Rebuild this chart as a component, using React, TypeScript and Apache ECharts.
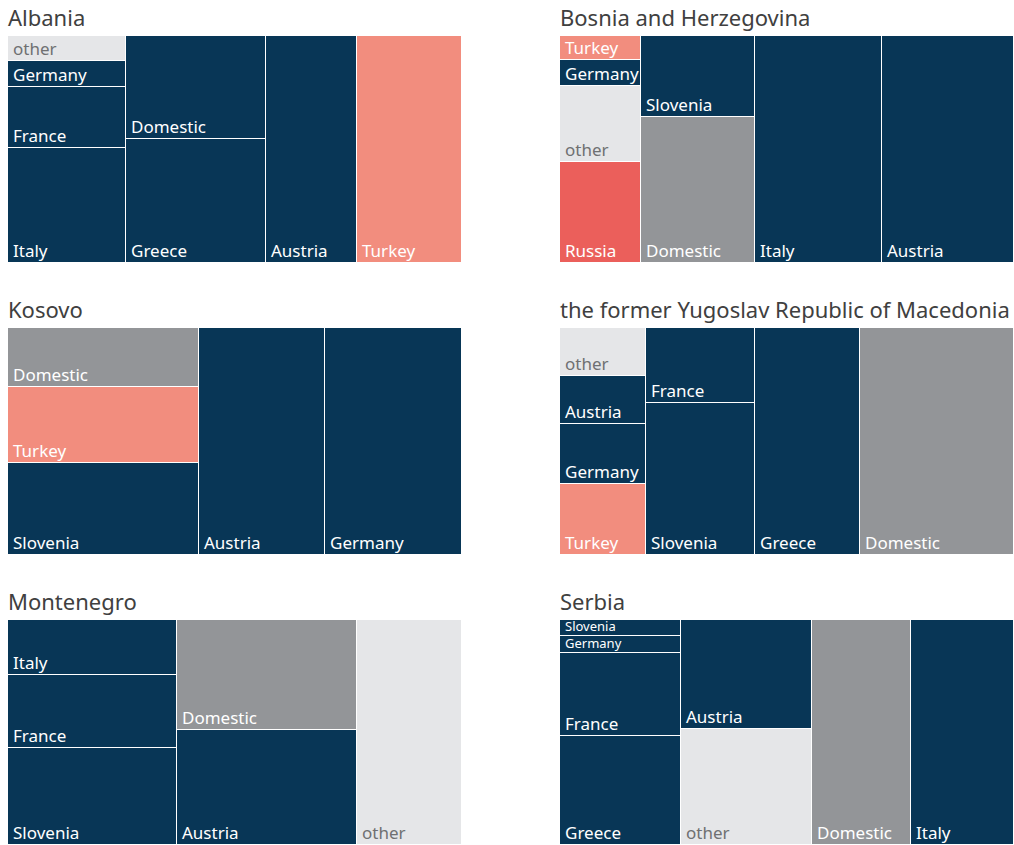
import React, { useEffect, useRef } from "react";
import * as echarts from "echarts";

// ---- Data (shares of a total, in %), sorted ascending as drawn ----
const albaniaNames = ["other", "Germany", "France", "Italy", "Domestic", "Greece", "Austria", "Turkey"];
const albaniaValues = [2.9, 2.95, 7.0, 13.1, 14.0, 17.0, 19.9, 23.2];
const albaniaColumns = [4, 2, 1, 1];

const bosniaNames = ["Turkey", "Germany", "other", "Russia", "Slovenia", "Domestic", "Italy", "Austria"];
const bosniaValues = [1.92, 2.01, 6.01, 8.0, 8.97, 16.06, 28.04, 28.98];
const bosniaColumns = [4, 2, 1, 1];

const kosovoNames = ["Domestic", "Turkey", "Slovenia", "Austria", "Germany"];
const kosovoValues = [10.91, 14.13, 16.97, 27.86, 30.13];
const kosovoColumns = [3, 1, 1];

const macedoniaNames = ["other", "Austria", "Germany", "Turkey", "France", "Slovenia", "Greece", "Domestic"];
const macedoniaValues = [3.98, 4.0, 5.0, 5.96, 7.95, 16.1, 23.1, 33.9];
const macedoniaColumns = [4, 2, 1, 1];

const montenegroNames = ["Italy", "France", "Slovenia", "Domestic", "Austria", "other"];
const montenegroValues = [9.04, 12.1, 16.13, 19.35, 20.16, 23.22];
const montenegroColumns = [3, 2, 1];

const serbiaNames = ["Slovenia", "Germany", "France", "Greece", "Austria", "other", "Domestic", "Italy"];
const serbiaValues = [1.93, 1.97, 9.87, 12.94, 13.84, 14.86, 21.81, 22.78];
const serbiaColumns = [4, 2, 1, 1];

const panelTitles = [
  "Albania",
  "Bosnia and Herzegovina",
  "Kosovo",
  "the former Yugoslav Republic of Macedonia",
  "Montenegro",
  "Serbia",
];

// ---- Styles ----
const NAVY = "#083656";
const GREY = "#939598";
const LIGHT = "#e5e6e8";
const SALMON = "#f28d7e";
const RED = "#eb5f5b";

const fillFor = (name: string, greyDomestic: boolean) => {
  if (name === "Domestic") return greyDomestic ? GREY : NAVY;
  if (name === "other") return LIGHT;
  if (name === "Turkey") return SALMON;
  if (name === "Russia") return RED;
  return NAVY;
};
const textFor = (name: string) => (name === "other" ? "#6f7072" : "#ffffff");

const FONT = "'Noto Sans', 'Open Sans', sans-serif";

type Panel = { title: string; names: string[]; values: number[]; columns: number[]; greyDomestic: boolean };

const panels: Panel[] = [
  { title: panelTitles[0], names: albaniaNames, values: albaniaValues, columns: albaniaColumns, greyDomestic: false },
  { title: panelTitles[1], names: bosniaNames, values: bosniaValues, columns: bosniaColumns, greyDomestic: true },
  { title: panelTitles[2], names: kosovoNames, values: kosovoValues, columns: kosovoColumns, greyDomestic: true },
  { title: panelTitles[3], names: macedoniaNames, values: macedoniaValues, columns: macedoniaColumns, greyDomestic: true },
  { title: panelTitles[4], names: montenegroNames, values: montenegroValues, columns: montenegroColumns, greyDomestic: true },
  { title: panelTitles[5], names: serbiaNames, values: serbiaValues, columns: serbiaColumns, greyDomestic: true },
];

// Column (strip) layout: each strip's width ~ its sum, cells stacked by value.
function layoutStrips(values: number[], columns: number[]) {
  const out: number[][] = [];
  let x = 0;
  let i = 0;
  for (const n of columns) {
    const group = values.slice(i, i + n);
    const colSum = group.reduce((a, b) => a + b, 0);
    let y = 0;
    group.forEach((v, k) => {
      out.push([x, x + colSum, y / colSum, (y + v) / colSum, i + k]);
      y += v;
    });
    x += colSum;
    i += n;
  }
  return out;
}

const COL_X = [8, 560];
const ROW_Y = [36, 328, 620];
const PANEL_W = 454;
const PANEL_H = 227;
const LABEL_SIZE = 17;
const SMALL_LABEL_SIZE = 13;
const TITLE_SIZE = 22;

export default function App() {
  const ref = useRef<HTMLDivElement>(null);

  useEffect(() => {
    if (!ref.current) return;
    const chart = echarts.init(ref.current, undefined, { renderer: "svg" });

    const grids: any[] = [];
    const xAxes: any[] = [];
    const yAxes: any[] = [];
    const series: any[] = [];
    const graphics: any[] = [];

    panels.forEach((p, idx) => {
      const left = COL_X[idx % 2];
      const top = ROW_Y[Math.floor(idx / 2)];
      const total = p.values.reduce((a, b) => a + b, 0);
      grids.push({ left, top, width: PANEL_W, height: PANEL_H, containLabel: false });
      xAxes.push({ type: "value", gridIndex: idx, min: 0, max: total, show: false });
      yAxes.push({ type: "value", gridIndex: idx, min: 0, max: 1, inverse: true, show: false });

      graphics.push({
        type: "text",
        left: left,
        top: top - 8 - TITLE_SIZE,
        style: {
          text: p.title,
          fill: "#404040",
          font: `normal ${TITLE_SIZE}px ${FONT}`,
        },
      });

      const data = layoutStrips(p.values, p.columns);
      series.push({
        type: "custom",
        xAxisIndex: idx,
        yAxisIndex: idx,
        data,
        clip: false,
        silent: true,
        renderItem: (params: any, api: any) => {
          const x0 = api.value(0);
          const x1 = api.value(1);
          const y0 = api.value(2);
          const y1 = api.value(3);
          const name = p.names[api.value(4)];
          const a = api.coord([x0, y0]);
          const b = api.coord([x1, y1]);
          const L = Math.round(a[0]);
          const T = Math.round(a[1]);
          const R = Math.round(b[0]);
          const B = Math.round(b[1]);
          const small = B - T < 20;
          const size = small ? SMALL_LABEL_SIZE : LABEL_SIZE;
          const baseline = small ? B - 4.5 : B - 5.5;
          return {
            type: "group",
            children: [
              {
                type: "rect",
                shape: { x: L, y: T, width: R - L - 1, height: B - T - 1 },
                style: { fill: fillFor(name, p.greyDomestic) },
              },
              {
                type: "text",
                x: L + 5,
                y: baseline - 0.39 * size,
                style: {
                  text: name,
                  fill: textFor(name),
                  font: `normal ${size}px ${FONT}`,
                  lineHeight: Math.round(size * 0.85),
                  align: "left",
                  verticalAlign: "middle",
                },
              },
            ],
          };
        },
      });
    });

    chart.setOption({
      animation: false,
      backgroundColor: "#ffffff",
      grid: grids,
      xAxis: xAxes,
      yAxis: yAxes,
      series,
      graphic: graphics,
    });

    return () => chart.dispose();
  }, []);

  return (
    <div
      ref={ref}
      style={{ position: "absolute", left: 0, top: 0, width: 1014, height: 845 }}
    />
  );
}
